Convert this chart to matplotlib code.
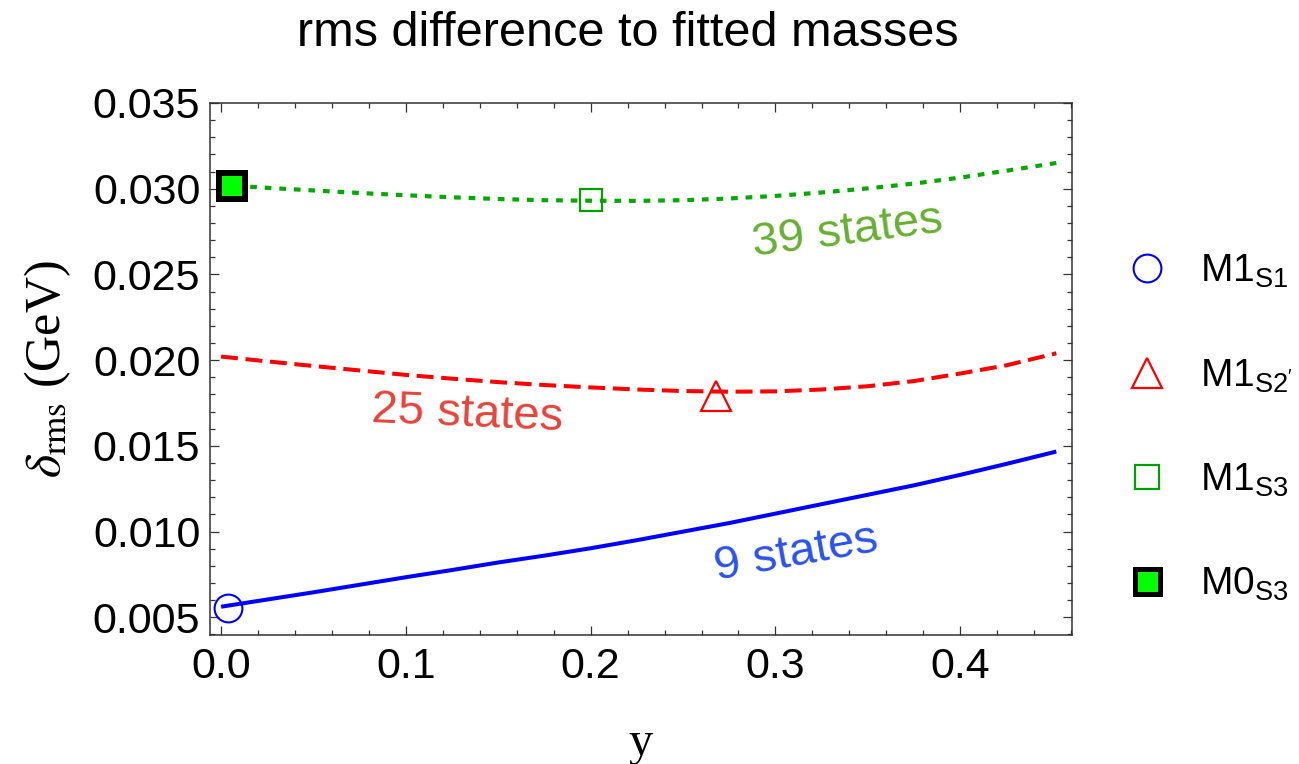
import matplotlib
matplotlib.use("Agg")
import matplotlib.pyplot as plt
from matplotlib.lines import Line2D
from matplotlib.ticker import MultipleLocator, FormatStrFormatter

plt.rcParams['font.family'] = ['Liberation Sans', 'DejaVu Sans']
plt.rcParams['mathtext.fontset'] = 'custom'
plt.rcParams['mathtext.rm'] = 'Liberation Sans'
plt.rcParams['mathtext.it'] = 'Liberation Sans:italic'
plt.rcParams['mathtext.bf'] = 'Liberation Sans:bold'

# rms deviation vs. y for the three fitted state sets
y_vals = [0.0, 0.025, 0.05, 0.075, 0.1, 0.125, 0.15, 0.175, 0.2, 0.225,
          0.25, 0.275, 0.3, 0.325, 0.35, 0.375, 0.4, 0.425, 0.452]
rms_9 = [0.00562, 0.00604, 0.00646, 0.0069, 0.00734, 0.00776, 0.0082, 0.0086,
         0.00903, 0.0095, 0.0100, 0.0105, 0.01105, 0.0116, 0.01215, 0.0127,
         0.01331, 0.01395, 0.01467]
rms_25 = [0.02021, 0.01993, 0.01966, 0.0194, 0.01914, 0.01892, 0.01872,
          0.01855, 0.01841, 0.01829, 0.0182, 0.01816, 0.01818, 0.01829,
          0.01848, 0.01878, 0.01922, 0.0197, 0.0204]
rms_39 = [0.03022, 0.03005, 0.0299, 0.02975, 0.02962, 0.0295, 0.0294,
          0.02933, 0.0293, 0.02929, 0.02933, 0.02943, 0.02958, 0.02978,
          0.03002, 0.0303, 0.03065, 0.03105, 0.0315]

# model points
m1_s1 = (0.0036, 0.00556)
m1_s2p = (0.268, 0.0179)
m1_s3 = (0.2004, 0.02937)
m0_s3 = (0.0057, 0.03014)

legend_labels = [r'M1$_{\mathrm{S1}}$', r"M1$_{\mathrm{S2'}}$",
                 r'M1$_{\mathrm{S3}}$', r'M0$_{\mathrm{S3}}$']

fig = plt.figure(figsize=(12.99, 7.64), dpi=100)
ax = fig.add_axes([210 / 1299, 1 - 635 / 764, (1072 - 210) / 1299, (635 - 103) / 764])

ax.plot(y_vals, rms_9, color='#0000ff', lw=2.9, solid_capstyle='butt', zorder=2)
ax.plot(y_vals, rms_25, color='#ff0000', lw=2.9, dashes=(4.2, 1.9), zorder=2)
ax.plot(y_vals, rms_39, color='#00aa00', lw=3.0, dashes=(1.6, 1.9), zorder=2)

ax.plot(*m1_s1, marker='o', ms=20, mfc='none', mec='#0000ff', mew=1.5, zorder=3)
ax.plot(*m1_s2p, marker='^', ms=21, mfc='none', mec='#ff0000', mew=1.6, zorder=3)
ax.plot(*m1_s3, marker='s', ms=16, mfc='none', mec='#00a000', mew=1.6, zorder=3)
ax.plot(*m0_s3, marker='s', ms=18.5, mfc='#00ff00', mec='black', mew=4.3, zorder=4)

ax.text(0.3393, 0.02749, '39 states', color='#66b032', fontsize=34,
        rotation=7.3, ha='center', va='center', rotation_mode='anchor')
ax.text(0.1334, 0.01687, '25 states', color='#e8433a', fontsize=34,
        rotation=-2.5, ha='center', va='center', rotation_mode='anchor')
ax.text(0.3111, 0.00875, '9 states', color='#2a52f0', fontsize=34,
        rotation=10.2, ha='center', va='center', rotation_mode='anchor')

ax.set_xlim(-0.006, 0.4605)
ax.set_ylim(0.00397, 0.035)
ax.xaxis.set_major_locator(MultipleLocator(0.1))
ax.xaxis.set_minor_locator(MultipleLocator(0.02))
ax.yaxis.set_major_locator(MultipleLocator(0.005))
ax.yaxis.set_minor_locator(MultipleLocator(0.001))
ax.xaxis.set_major_formatter(FormatStrFormatter('%.1f'))
ax.yaxis.set_major_formatter(FormatStrFormatter('%.3f'))

ax.tick_params(which='both', direction='in', top=True, right=True,
               color='#333333', width=0.9, labelsize=31)
ax.tick_params(which='major', length=6.5)
ax.tick_params(which='minor', length=3.6)
ax.tick_params(axis='y', pad=7)
ax.tick_params(axis='x', pad=9)
for sp in ax.spines.values():
    sp.set_linewidth(1.1)
    sp.set_color('#333333')

ax.set_ylabel(r'$\delta_{\mathrm{rms}}$ (GeV)', fontsize=36,
              family='Liberation Serif', math_fontfamily='stix', labelpad=14)
ax.set_xlabel('y', fontsize=35, family='Liberation Serif', labelpad=24)

fig.text(628 / 1299, 1 - 34 / 764, 'rms difference to fitted masses',
         fontsize=35, ha='center', va='center')

handles = [
    Line2D([], [], ls='none', marker='o', ms=20, mfc='none', mec='#0000ff', mew=1.5),
    Line2D([], [], ls='none', marker='^', ms=22, mfc='none', mec='#ff0000', mew=1.6),
    Line2D([], [], ls='none', marker='s', ms=17, mfc='none', mec='#00a000', mew=1.6),
    Line2D([], [], ls='none', marker='s', ms=18, mfc='#00ff00', mec='black', mew=3.6),
]
fig.legend(handles, legend_labels, loc='center left',
           bbox_to_anchor=(1128 / 1299, 1 - 428 / 764), frameon=False,
           fontsize=28, handlelength=1.0, handletextpad=0.85,
           labelspacing=1.72, borderpad=0, borderaxespad=0)

fig.savefig('out.png', dpi=100)
